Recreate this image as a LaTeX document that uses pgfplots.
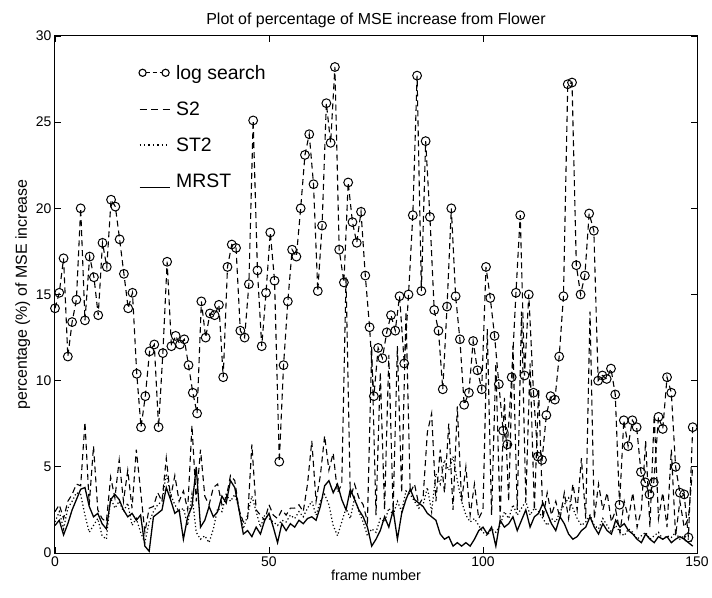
\documentclass[border=0pt]{standalone}
\usepackage{fontspec}
\setmainfont{Liberation Sans}
\usepackage{pgfplots}
\pgfplotsset{compat=1.18}
\begin{document}
\begin{tikzpicture}
\begin{axis}[
  width=642bp, height=517bp, scale only axis,
  xmin=0, xmax=150, ymin=0, ymax=30,
  xtick={0,50,100,150}, ytick={0,5,10,15,20,25,30},
  tick align=inside, major tick length=6bp,
  tick style={black, line width=0.7bp},
  axis line style={line width=1bp},
  /pgf/number format/assume math mode=true,
  tick label style={font=\fontsize{14}{16}\selectfont},
  xlabel style={font=\fontsize{14.5}{17}\selectfont, yshift=3bp},
  ylabel style={font=\fontsize{16}{18}\selectfont, yshift=-1bp},
  title style={font=\fontsize{16}{18}\selectfont, yshift=-1bp},
  title={Plot of percentage of MSE increase from Flower},
  xlabel={frame number},
  ylabel={percentage (\%) of MSE increase},
  legend style={draw=none, fill=none, at={(0.125,0.952)}, anchor=north west,
    font=\fontsize{19.5}{21}\selectfont, row sep=17bp,
    cells={anchor=west}},
]
\addplot[black, line width=1.1bp, dash pattern=on 6bp off 4bp, mark=o,
  mark size=4.4bp, mark options={solid, line width=1bp},
  legend image code/.code={
    \draw[solid, line width=1bp, dash pattern=on 4.5bp off 2.5bp] (6bp,0bp) -- (22bp,0bp);
    \draw[solid, line width=1.1bp] (3bp,0bp) circle (3.6bp);
    \draw[solid, line width=1.1bp] (26bp,0bp) circle (3.6bp);
  }] table {
0 14.2
1 15.1
2 17.1
3 11.4
4 13.4
5 14.7
6 20.0
7 13.5
8.1 17.2
9.1 16.0
10.1 13.8
11.1 18.0
12.1 16.6
13.1 20.5
14.1 20.1
15.1 18.2
16.1 16.2
17.1 14.2
18.1 15.1
19.1 10.4
20.1 7.3
21.1 9.1
22.1 11.7
23.2 12.1
24.2 7.3
25.2 11.6
26.2 16.9
27.2 12.0
28.2 12.6
29.2 12.1
30.2 12.4
31.2 10.9
32.2 9.3
33.2 8.1
34.2 14.6
35.2 12.5
36.2 13.9
37.3 13.8
38.3 14.4
39.3 10.2
40.3 16.6
41.3 17.9
42.3 17.7
43.3 12.9
44.3 12.5
45.3 15.6
46.3 25.1
47.3 16.4
48.3 12.0
49.3 15.1
50.3 18.6
51.3 15.8
52.4 5.3
53.4 10.9
54.4 14.6
55.4 17.6
56.4 17.2
57.4 20.0
58.4 23.1
59.4 24.3
60.4 21.4
61.4 15.2
62.4 19.0
63.4 26.1
64.4 23.8
65.4 28.2
66.4 17.6
67.5 15.7
68.5 21.5
69.5 19.2
70.5 18.0
71.5 19.8
72.5 16.1
73.5 13.1
74.5 9.1
75.5 11.9
76.5 11.3
77.5 12.8
78.5 13.8
79.5 12.9
80.5 14.9
81.6 11.0
82.6 15.0
83.6 19.6
84.6 27.7
85.6 15.2
86.6 23.9
87.6 19.5
88.6 14.1
89.6 12.9
90.6 9.5
91.6 14.3
92.6 20.0
93.6 14.9
94.6 12.4
95.6 8.6
96.7 9.3
97.7 12.3
98.7 10.6
99.7 9.5
100.7 16.6
101.7 14.8
102.7 12.6
103.7 9.8
104.7 7.1
105.7 6.3
106.7 10.2
107.7 15.1
108.7 19.6
109.7 10.3
110.7 15.0
111.8 9.3
112.8 5.6
113.8 5.4
114.8 8.0
115.8 9.1
116.8 8.9
117.8 11.4
118.8 14.9
119.8 27.2
120.8 27.3
121.8 16.7
122.8 15.0
123.8 16.1
124.8 19.7
125.9 18.7
126.9 10.0
127.9 10.3
128.9 10.1
129.9 10.7
130.9 9.2
131.9 2.8
132.9 7.7
133.9 6.2
134.9 7.7
135.9 7.3
136.9 4.7
137.9 4.1
138.9 3.4
139.9 4.1
141 7.9
142 7.2
143 10.2
144 9.3
145 5.0
146 3.5
147 3.4
148 0.9
149 7.3
};
\addlegendentry{log search}
\addplot[black, line width=1.1bp, dash pattern=on 6bp off 4bp, mark=none,
  legend image code/.code={
    \draw[line width=1.1bp, dash pattern=on 7bp off 4.5bp] (0bp,0bp) -- (34bp,0bp);
  }] table {
0 2.4
1 2.8
2 2.0
3 3.0
4 3.4
5 4.0
6 3.9
7 7.6
8 2.8
9 6.2
10 2.5
11 2.0
12 1.8
13 4.4
14 3.2
15 5.4
16 3.0
17 4.8
18 2.6
19 6.0
20 3.6
21 1.2
22 2.6
23 2.7
24 3.5
25 3.0
26 5.5
27 3.2
28 4.5
29 3.0
30 3.6
31 2.5
32 7.4
33 3.0
34 6.0
35 3.3
36 2.8
37 3.8
38 4.0
39 2.8
40 3.2
41 4.5
42 4.2
43 2.5
44 1.8
45 2.0
46 6.3
47 2.5
48 2.2
49 1.9
50 2.8
51 2.2
52 2.0
53 2.5
54 2.2
55 2.6
56 2.6
57 2.8
58 2.4
59 4.0
60 6.5
61 3.0
62 4.5
63 6.8
64 4.8
65 5.8
66 3.5
67 4.0
68 16.0
69 3.2
70 4.0
71 3.2
72 2.8
73 1.8
74 12.0
75 2.2
76 10.5
77 2.5
78 11.5
79 2.5
80 12.0
81 3.5
82 14.0
83 3.5
84 4.0
85 2.8
86 3.2
87 7.0
88 8.1
89 3.0
90 6.0
91 3.5
92 7.5
93 2.5
94 8.5
95 3.0
96 5.0
97 2.2
98 4.0
99 2.0
100 2.5
101 13.0
102 2.2
103 11.0
104 2.0
105 9.0
106 3.0
107 12.0
108 2.5
109 14.0
110 3.0
111 11.0
112 2.5
113 9.5
114 2.0
115 3.5
116 2.2
117 3.0
118 2.0
119 3.5
120 2.0
121 4.0
122 2.5
123 5.5
124 2.0
125 14.0
126 2.0
127 4.0
128 2.5
129 3.5
130 1.8
131 2.5
132 1.2
133 3.0
134 2.0
135 3.5
136 1.5
137 2.5
138 6.5
139 1.5
140 8.0
141 2.0
142 3.5
143 1.5
144 6.0
145 1.0
146 3.0
147 1.5
148 2.0
149 5.0
};
\addlegendentry{S2}
\addplot[black, line width=1.2bp, dash pattern=on 1.2bp off 2.4bp, mark=none,
  legend image code/.code={
    \draw[line width=1.4bp, dash pattern=on 1.4bp off 3bp] (0bp,0bp) -- (30bp,0bp);
  }] table {
0 1.8
1 2.4
2 1.4
3 2.6
4 3.0
5 3.5
6 3.4
7 2.2
8 1.2
9 1.6
10 2.0
11 1.0
12 0.8
13 3.2
14 2.6
15 3.0
16 2.4
17 2.9
18 1.6
19 2.0
20 1.2
21 0.6
22 1.8
23 2.4
24 2.8
25 3.0
26 4.6
27 3.4
28 2.8
29 2.4
30 2.6
31 1.6
32 3.4
33 1.2
34 0.8
35 1.0
36 0.6
37 1.4
38 2.6
39 2.4
40 3.4
41 3.0
42 3.4
43 2.6
44 1.4
45 2.2
46 3.3
47 2.4
48 1.5
49 2.2
50 2.0
51 1.8
52 1.6
53 1.9
54 1.8
55 2.2
56 2.0
57 2.4
58 2.1
59 2.6
60 3.0
61 2.2
62 3.0
63 3.4
64 2.8
65 1.6
66 1.0
67 1.8
68 2.6
69 2.0
70 3.2
71 2.4
72 1.8
73 1.0
74 1.4
75 1.2
76 2.0
77 1.8
78 2.6
79 2.2
80 3.0
81 2.4
82 3.6
83 3.4
84 3.0
85 2.6
86 2.8
87 3.8
88 2.4
89 4.6
90 4.0
91 5.4
92 4.8
93 5.6
94 4.2
95 3.0
96 2.2
97 1.8
98 2.0
99 1.6
100 1.2
101 1.0
102 1.4
103 1.2
104 1.6
105 2.4
106 2.0
107 2.8
108 2.2
109 2.6
110 3.0
111 2.2
112 2.6
113 2.4
114 2.0
115 1.6
116 2.0
117 1.8
118 2.4
119 2.8
120 3.2
121 2.6
122 2.0
123 1.6
124 1.8
125 2.2
126 1.6
127 1.4
128 2.0
129 1.6
130 1.2
131 1.6
132 1.2
133 1.0
134 1.4
135 1.2
136 0.8
137 1.0
138 1.2
139 0.8
140 1.0
141 1.2
142 0.8
143 1.0
144 0.9
145 1.2
146 0.8
147 1.0
148 0.8
149 0.6
};
\addlegendentry{ST2}
\addplot[black, line width=1.3bp, mark=none,
  legend image code/.code={
    \draw[line width=1.1bp] (0bp,-6bp) -- (30bp,-6bp);
  }] table {
0 1.6
1 1.9
2 1.05
3 1.7
4 2.5
5 3.1
6 3.7
7 3.8
8 2.7
9 2.1
10 2.3
11 1.7
12 1.4
13 3.1
14 3.4
15 3.1
16 2.5
17 2.1
18 2.3
19 1.9
20 2.2
21 0.4
22 0.1
23 2.1
24 2.3
25 2.5
26 3.8
27 3.1
28 2.3
29 2.5
30 0.8
31 2.1
32 2.7
33 5.0
34 1.5
35 1.9
36 2.7
37 2.1
38 2.4
39 3.3
40 2.9
41 4.2
42 3.8
43 2.5
44 1.1
45 1.3
46 0.95
47 1.5
48 1.1
49 1.9
50 2.3
51 1.5
52 0.6
53 1.7
54 1.3
55 1.7
56 1.5
57 1.9
58 1.7
59 2.0
60 2.1
61 1.9
62 2.7
63 3.9
64 4.2
65 3.5
66 4.0
67 3.1
68 2.5
69 3.7
70 3.1
71 2.5
72 2.1
73 1.5
74 0.4
75 0.8
76 1.3
77 2.1
78 1.5
79 2.5
80 0.8
81 2.3
82 3.1
83 3.7
84 3.1
85 2.9
86 2.7
87 2.3
88 2.1
89 1.9
90 1.1
91 0.8
92 0.95
93 0.4
94 0.6
95 0.4
96 0.6
97 0.4
98 0.8
99 1.3
100 1.5
101 1.1
102 1.5
103 0.4
104 1.9
105 1.5
106 1.7
107 2.1
108 1.3
109 1.9
110 2.5
111 1.5
112 2.1
113 2.3
114 2.9
115 2.3
116 1.7
117 1.3
118 2.1
119 1.7
120 1.1
121 0.8
122 0.95
123 1.3
124 1.5
125 2.1
126 1.5
127 1.1
128 1.7
129 1.3
130 1.1
131 1.9
132 1.5
133 1.7
134 1.3
135 1.1
136 0.8
137 0.6
138 1.1
139 0.8
140 0.6
141 0.95
142 0.8
143 0.95
144 0.6
145 0.8
146 0.95
147 0.8
148 0.6
149 0.4
};
\addlegendentry{MRST}
\end{axis}
\path ([xshift=-55bp,yshift=-45bp]current axis.south west) rectangle ([xshift=15bp,yshift=36bp]current axis.north east);
\end{tikzpicture}
\end{document}
